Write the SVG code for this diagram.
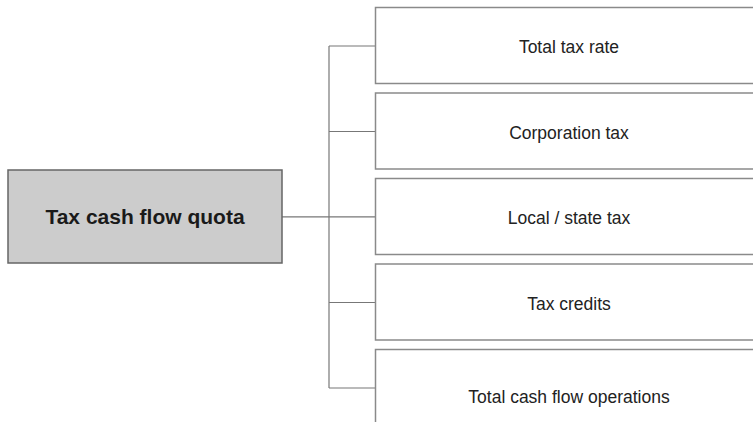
<svg xmlns="http://www.w3.org/2000/svg" width="753" height="422" viewBox="0 0 753 422">
<style>
.box{fill:#ffffff;stroke:#8a8a8a;stroke-width:1.5}
.root{fill:#cccccc;stroke:#666666;stroke-width:1.5}
.lbl{font-family:"Liberation Sans",Arial,sans-serif;font-size:17.5px;fill:#222222;text-anchor:middle}
.rlbl{font-family:"Liberation Sans",Arial,sans-serif;font-size:21px;font-weight:bold;fill:#1a1a1a;text-anchor:middle}
.con{fill:none;stroke:#777777;stroke-width:1.2}
</style>
<rect width="753" height="422" fill="#ffffff"/>
<g id="connectors">
<path class="con" d="M282 216.8H375.5"/>
<path class="con" d="M329 46V388"/>
<path class="con" d="M329 46H375.5M329 131.5H375.5M329 302.5H375.5M329 388H375.5"/>
</g>
<g id="root">
<rect class="root" x="8" y="170" width="274" height="93"/>
<text class="rlbl" x="145" y="224.3">Tax cash flow quota</text>
</g>
<g id="n1">
<rect class="box" x="375.5" y="7.5" width="400" height="76"/>
<text class="lbl" x="569" y="53">Total tax rate</text>
</g>
<g id="n2">
<rect class="box" x="375.5" y="93" width="400" height="76"/>
<text class="lbl" x="569" y="138.5">Corporation tax</text>
</g>
<g id="n3">
<rect class="box" x="375.5" y="178.5" width="400" height="76"/>
<text class="lbl" x="569" y="224">Local / state tax</text>
</g>
<g id="n4">
<rect class="box" x="375.5" y="264" width="400" height="76"/>
<text class="lbl" x="569" y="309.5">Tax credits</text>
</g>
<g id="n5">
<rect class="box" x="375.5" y="349.5" width="400" height="100"/>
<text class="lbl" x="569" y="403">Total cash flow operations</text>
</g>
</svg>
